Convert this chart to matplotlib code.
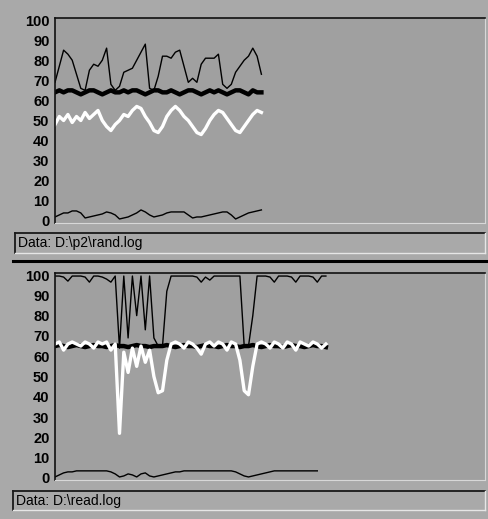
import matplotlib
matplotlib.use("Agg")
import matplotlib.pyplot as plt
from matplotlib.lines import Line2D
from matplotlib.patches import Rectangle

W, H = 489, 519

# ---- series for the first log (rand.log) ----
rand_peak = [69, 77, 85, 83, 80, 73, 66, 65, 75, 78, 77, 80, 86, 68, 65, 67,
             74, 75, 76, 80, 84, 88, 66, 65, 72, 82, 82, 81, 84, 85, 77, 69,
             71, 69, 78, 81, 81, 81, 83, 68, 66, 68, 74, 77, 80, 82, 86, 82, 73]
rand_level = [64, 65, 64, 65, 65, 64, 63, 64, 65, 65, 64, 63, 64, 65, 64, 64,
              65, 64, 65, 65, 64, 63, 64, 65, 65, 64, 64, 65, 64, 63, 64, 65,
              65, 64, 63, 64, 65, 64, 65, 64, 63, 64, 65, 65, 64, 63, 65, 64, 64]
rand_white = [48, 52, 50, 53, 49, 52, 50, 54, 51, 53, 55, 50, 47, 45, 48, 50,
              53, 52, 55, 57, 56, 52, 49, 45, 44, 47, 52, 55, 57, 55, 52, 50,
              47, 44, 43, 46, 50, 53, 55, 54, 51, 48, 45, 44, 47, 50, 53, 55, 54]
rand_low = [2, 3, 4, 4, 5, 5, 4, 1.5, 2, 2.5, 3, 3.5, 4.5, 4, 3, 1,
            1.5, 2, 3, 4, 5.5, 4.5, 3, 2, 2.5, 3, 4, 4.5, 4.5, 4.5, 4.5, 3,
            1.5, 2, 2, 2.5, 3, 3.5, 4, 4.5, 4.5, 3, 1, 2, 3, 4, 4.5, 5, 5.5]

# ---- series for the second log (read.log) ----
read_top = [99.5, 99.5, 99, 97, 99.5, 99.5, 99.5, 99, 96.5, 99.5, 99.5, 99, 98, 96.5, 99.5, 64,
            99.5, 69, 99.5, 80, 99.5, 73, 99.5, 69, 65, 65, 92, 99.5, 99.5, 99.5, 99.5, 99.5,
            99.5, 99, 96.5, 99, 97.5, 99.5, 99.5, 99.5, 99.5, 99.5, 99.5, 99.5, 65, 65,
            80, 99.5, 99.5, 99.5, 99, 96.5, 99.5, 99.5, 99.5, 99, 96.5, 99.5, 99.5, 99.5, 99, 96.5, 99.5, 99.5]
read_level = [65, 65.5, 65, 64.5, 65, 65.5, 65, 64.5, 65, 65.5, 65, 65, 64.5, 65, 65.5, 65,
              65, 64.5, 65, 65.5, 65, 65, 64.5, 65, 65, 65, 65.5, 65, 64.5, 65, 65.5, 65,
              65, 64.5, 65, 65.5, 65, 65, 64.5, 65, 65.5, 65, 65, 64.5, 65, 65, 65.5, 65,
              64.5, 65, 65.5, 65, 65, 64.5, 65, 65.5, 65, 65, 64.5, 65, 65.5, 65, 65, 64.5]
read_white = [66, 67, 63, 66, 67, 66, 65, 67, 66, 64, 67, 66, 67, 63, 66, 22,
              62, 52, 64, 55, 65, 57, 63, 50, 42, 43, 58, 66, 67, 66, 64, 67,
              66, 64, 61, 66, 67, 65, 67, 66, 63, 67, 66, 58, 43, 41, 55, 66,
              67, 66, 64, 67, 66, 64, 67, 66, 63, 67, 66, 65, 67, 66, 64, 66]
read_low = [0.5, 1.5, 2.5, 3, 3, 3.5, 3.5, 3.5, 3.5, 3.5, 3.5, 3.5, 3.5, 3, 2, 0.5,
            1, 2, 1.5, 0.5, 2, 2.5, 1, 0.5, 1, 1.5, 2, 2.5, 3, 3, 3.5, 3.5,
            3.5, 3.5, 3.5, 3.5, 3.5, 3.5, 3.5, 3.5, 3.5, 3.5, 3, 2, 1, 0.5,
            1, 1.5, 2, 2.5, 3, 3.5, 3.5, 3.5, 3.5, 3.5, 3.5, 3.5, 3.5, 3.5, 3.5, 3.5]

y_ticks = [0, 10, 20, 30, 40, 50, 60, 70, 80, 90, 100]
status_texts = ["Data: D:\\p2\\rand.log", "Data: D:\\read.log"]

plt.rcParams["font.family"] = ["Liberation Sans", "DejaVu Sans"]

fig_bg = "#a9a9a9"
plot_bg = "#a0a0a0"

fig = plt.figure(figsize=(W / 100, H / 100), dpi=100, facecolor=fig_bg)


def px_rect(x0, y0, x1, y1):
    return [x0 / W, 1 - y1 / H, (x1 - x0) / W, (y1 - y0) / H]


def make_panel(y0, y1):
    ax = fig.add_axes(px_rect(55, y0, 485, y1))
    ax.set_facecolor(plot_bg)
    ax.set_xlim(0, 100)
    ax.set_ylim(-1, 101)
    ax.set_yticks(y_ticks)
    ax.set_yticklabels([str(t) for t in y_ticks], fontsize=10.5,
                       fontweight="bold", color="black")
    ax.tick_params(axis="y", length=0, pad=4)
    ax.set_xticks([])
    ax.spines["top"].set_color("#111111")
    ax.spines["left"].set_color("#111111")
    ax.spines["top"].set_linewidth(1.2)
    ax.spines["left"].set_linewidth(1.2)
    ax.spines["right"].set_color("#d8d8d8")
    ax.spines["bottom"].set_color("#d8d8d8")
    return ax


def trace(ax, values, **style):
    ax.plot(range(len(values)), values, **style)


ax1 = make_panel(18, 223)
trace(ax1, rand_white, color="white", lw=2.4)
trace(ax1, rand_level, color="black", lw=3.2)
trace(ax1, rand_peak, color="black", lw=1.0)
trace(ax1, rand_low, color="black", lw=1.0)

ax2 = make_panel(273, 480)
trace(ax2, read_level, color="black", lw=3.2)
trace(ax2, read_white, color="white", lw=2.4)
trace(ax2, read_top, color="black", lw=1.0)
trace(ax2, read_low, color="black", lw=1.0)

# overlay in pixel coordinates for status bars and separator
ov = fig.add_axes([0, 0, 1, 1], facecolor="none")
ov.set_xlim(0, W)
ov.set_ylim(H, 0)
ov.axis("off")


def status_box(x0, y0, x1, y1, text):
    ov.add_patch(Rectangle((x0, y0), x1 - x0, y1 - y0, facecolor=fig_bg, edgecolor="none"))
    ov.add_line(Line2D([x0, x1], [y0, y0], color="#1a1a1a", lw=1.3))
    ov.add_line(Line2D([x0, x0], [y0, y1], color="#1a1a1a", lw=1.3))
    ov.add_line(Line2D([x0, x1], [y1, y1], color="#e6e6e6", lw=1.0))
    ov.add_line(Line2D([x1, x1], [y0, y1], color="#e6e6e6", lw=1.0))
    ov.text(x0 + 3, (y0 + y1) / 2 + 0.5, text, fontsize=10, color="black",
            ha="left", va="center")


status_box(15, 233, 485, 253, status_texts[0])
ov.add_line(Line2D([13, W], [261, 261], color="black", lw=2.2))
status_box(13, 491, 485, 510, status_texts[1])

fig.savefig("out.png", dpi=100, facecolor=fig_bg)
